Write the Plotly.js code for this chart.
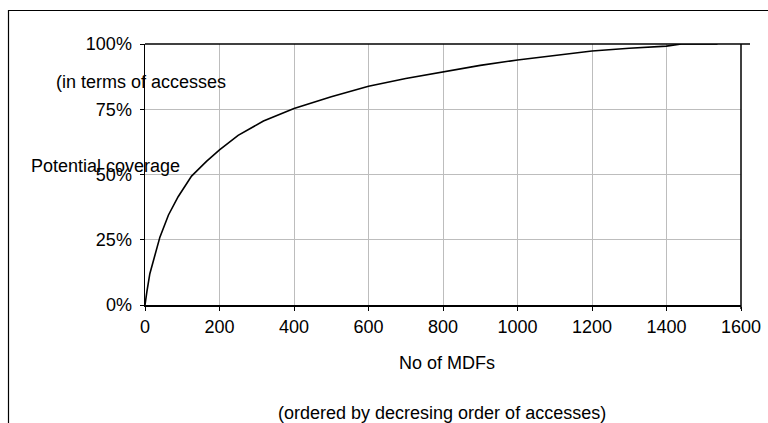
<!DOCTYPE html>
<html>
<head>
<meta charset="utf-8">
<script src="https://cdn.plot.ly/plotly-3.0.1.min.js"></script>
<style>
html,body{margin:0;padding:0;background:#fff;}
#chart{width:768px;height:423px;}
</style>
</head>
<body>
<div id="chart"></div>
<script>
// Number of MDFs (ordered by decreasing accesses)
const mdfCount = [0, 2, 5, 13, 27, 40, 63, 89, 125, 165, 200, 250, 318, 400, 500, 600, 700, 800, 900, 1000, 1100, 1200, 1300, 1400, 1440, 1537];
// Cumulative potential coverage (share of accesses)
const coverage = [0, 0.025, 0.05, 0.12, 0.198, 0.26, 0.345, 0.415, 0.494, 0.55, 0.594, 0.65, 0.705, 0.753, 0.798, 0.838, 0.868, 0.894, 0.918, 0.939, 0.957, 0.973, 0.984, 0.992, 1.0, 1.0];
const xTicks = [0, 200, 400, 600, 800, 1000, 1200, 1400, 1600];
const yTicks = [0, 0.25, 0.5, 0.75, 1.0];
const yTickText = ['0%', '25%', '50%', '75%', '100%'];

const FONT = 'Liberation Sans, Arial, sans-serif';
const L = 145, R = 741, T = 44, B = 305;
const W = R - L, H = B - T;
const px = v => (v - L) / W;
const py = v => (B - v) / H;

const trace = {
  x: mdfCount, y: coverage, type: 'scatter', mode: 'lines',
  line: {color: '#000', width: 1.6}, hoverinfo: 'skip', showlegend: false
};

const layout = {
  width: 768, height: 423,
  margin: {l: L, r: 768 - R, t: T, b: 423 - B, pad: 0},
  paper_bgcolor: '#fff', plot_bgcolor: '#fff',
  font: {family: FONT, size: 18, color: '#000'},
  showlegend: false,
  xaxis: {
    range: [0, 1600], tickvals: xTicks, ticktext: xTicks.map(String),
    ticks: 'outside', ticklen: 4, tickwidth: 1, tickcolor: '#000',
    showgrid: true, gridcolor: '#bdbdbd', gridwidth: 1,
    showline: true, linecolor: '#000', linewidth: 2,
    zeroline: false, tickfont: {family: FONT, size: 18, color: '#000'},
    fixedrange: true
  },
  yaxis: {
    range: [0, 1], tickvals: yTicks, ticktext: yTickText,
    ticks: 'outside', ticklen: 4, tickwidth: 1, tickcolor: '#000',
    showgrid: true, gridcolor: '#bdbdbd', gridwidth: 1,
    showline: true, linecolor: '#000', linewidth: 1.5,
    zeroline: false, tickfont: {family: FONT, size: 18, color: '#000'},
    ticklabelstandoff: 4,
    fixedrange: true
  },
  shapes: [
    // outer chart border (extends beyond the picture on right and bottom)
    {type: 'rect', xref: 'paper', yref: 'paper', x0: px(8.5), x1: px(790), y0: py(450), y1: py(10.5),
     line: {color: '#000', width: 1.2}, fillcolor: 'rgba(0,0,0,0)', layer: 'below'},
    // top line at 100%
    {type: 'line', xref: 'paper', yref: 'paper', x0: 0, x1: px(750), y0: 1, y1: 1,
     line: {color: '#000', width: 1.5}},
    // right frame line
    {type: 'line', xref: 'paper', yref: 'paper', x0: 1, x1: 1, y0: py(309), y1: 1,
     line: {color: '#000', width: 1.5}}
  ],
  annotations: [
    {text: '(in terms of accesses', xref: 'paper', yref: 'paper', x: px(54), y: py(82),
     xanchor: 'left', yanchor: 'middle', showarrow: false, font: {family: FONT, size: 18, color: '#000'}},
    {text: 'Potential coverage', xref: 'paper', yref: 'paper', x: px(29), y: py(166),
     xanchor: 'left', yanchor: 'middle', showarrow: false, font: {family: FONT, size: 18, color: '#000'}},
    {text: 'No of MDFs', xref: 'paper', yref: 'paper', x: px(447), y: py(363),
     xanchor: 'center', yanchor: 'middle', showarrow: false, font: {family: FONT, size: 18, color: '#000'}},
    {text: '(ordered by decresing order of accesses)', xref: 'paper', yref: 'paper', x: px(442), y: py(413),
     xanchor: 'center', yanchor: 'middle', showarrow: false, font: {family: FONT, size: 18, color: '#000'}}
  ]
};

Plotly.newPlot('chart', [trace], layout, {displayModeBar: false, staticPlot: true});
</script>
</body>
</html>
